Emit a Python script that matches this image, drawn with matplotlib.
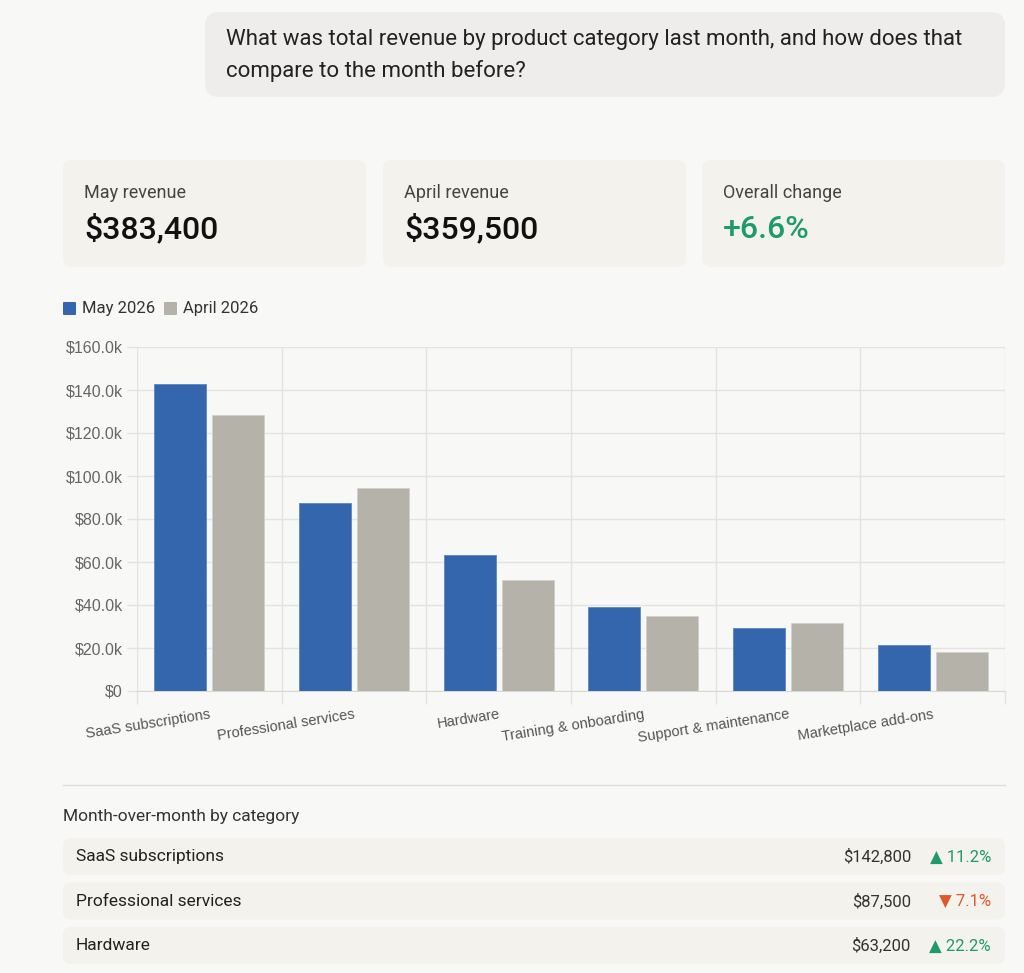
import matplotlib.pyplot as plt
from matplotlib.patches import FancyBboxPatch
from matplotlib.ticker import FuncFormatter, MultipleLocator
import numpy as np

# data
categories = ["SaaS subscriptions", "Professional services", "Hardware",
              "Training & onboarding", "Support & maintenance", "Marketplace add-ons"]
may_2026 = [142800, 87500, 63200, 39000, 29300, 21600]
april_2026 = [128400, 94200, 51700, 35100, 31800, 18300]

question_lines = ["What was total revenue by product category last month, and how does that",
                  "compare to the month before?"]
card_labels = ["May revenue", "April revenue", "Overall change"]
card_values = ["$383,400", "$359,500", "+6.6%"]

table_rows = ["SaaS subscriptions", "Professional services", "Hardware"]
table_values = ["$142,800", "$87,500", "$63,200"]
table_changes = ["▲ 11.2%", "▼ 7.1%", "▲ 22.2%"]

BG = "#f8f8f6"
CARD = "#f3f2ec"
BLUE = "#3366ad"
GREY = "#b5b2aa"
GREEN = "#1f9a6c"
RED = "#e0582a"
UI_FONT = ["Roboto", "DejaVu Sans"]

W, H = 1024, 973
fig = plt.figure(figsize=(W / 100, H / 100), dpi=100, facecolor=BG)

# page layer in pixel coordinates
bg = fig.add_axes([0, 0, 1, 1])
bg.set_xlim(0, W)
bg.set_ylim(H, 0)
bg.axis("off")


def box(x, y, w, h, color, r=10):
    bg.add_patch(FancyBboxPatch((x + r, y + r), w - 2 * r, h - 2 * r,
                                boxstyle=f"round,pad={r}", fc=color, ec="none"))


# question bubble
box(205, 12, 800, 85, "#eeedeb", r=14)
for i, line in enumerate(question_lines):
    bg.text(226, 39 + i * 32, line, fontsize=16, family=UI_FONT, color="#222222",
            va="center")

# summary cards
card_x = [63, 383, 702]
for i, x in enumerate(card_x):
    box(x, 160, 303, 107, CARD, r=9)
    bg.text(x + 21, 193, card_labels[i], fontsize=13, family=UI_FONT,
            color="#444444", va="center")
    bg.text(x + 21, 229, card_values[i], fontsize=23, family=UI_FONT,
            weight="medium", color=GREEN if i == 2 else "#111111", va="center")

# legend
bg.add_patch(FancyBboxPatch((64, 303), 11, 11, boxstyle="round,pad=1",
                            fc=BLUE, ec="none"))
bg.text(82, 309, "May 2026", fontsize=12, family=UI_FONT, color="#333333", va="center")
bg.add_patch(FancyBboxPatch((165, 303), 11, 11, boxstyle="round,pad=1",
                            fc=GREY, ec="none"))
bg.text(183, 309, "April 2026", fontsize=12, family=UI_FONT, color="#333333", va="center")

# separator and table
bg.plot([63, 1005], [785, 785], color="#dedede", lw=1)
bg.text(63, 817, "Month-over-month by category", fontsize=12.5, family=UI_FONT,
        color="#333333", va="center")
for i, name in enumerate(table_rows):
    y = 838 + i * 44.5
    box(63, y, 942, 37, CARD, r=8)
    bg.text(76, y + 19, name, fontsize=12.5, family=UI_FONT, color="#222222", va="center")
    bg.text(911, y + 19, table_values[i], fontsize=12, family=UI_FONT,
            color="#333333", va="center", ha="right")
    up = table_changes[i].startswith("▲")
    bg.text(991, y + 19, table_changes[i], fontsize=12, family=UI_FONT,
            color=GREEN if up else RED, va="center", ha="right")

# chart
ax = fig.add_axes([137 / W, 1 - 691 / H, (1005 - 137) / W, (691 - 347) / H])
ax.set_facecolor("none")
x = np.arange(len(categories))
bw = 0.36
ax.bar(x - 0.2, may_2026, width=bw, color=BLUE, edgecolor="#5b86c4", lw=0.6, zorder=3)
ax.bar(x + 0.2, april_2026, width=bw, color=GREY, edgecolor="#d2d0ca", lw=0.6, zorder=3)

ax.set_xlim(-0.5, len(categories) - 0.5)
ax.set_ylim(0, 160000)
ax.yaxis.set_major_locator(MultipleLocator(20000))
ax.yaxis.set_major_formatter(FuncFormatter(lambda v, p: "$0" if v == 0 else f"${v / 1000:.1f}k"))
ax.grid(axis="y", color="#e3e3e1", lw=1, zorder=0)
ax.set_xticks(x)
ax.set_xticks(np.arange(-0.5, len(categories)), minor=True)
ax.grid(axis="x", which="minor", color="#e3e3e1", lw=1, zorder=0)
ax.set_xticklabels(categories, rotation=9, ha="right", rotation_mode="anchor",
                   fontsize=10.5, family="Liberation Sans", color="#555555")
ax.tick_params(axis="x", which="major", length=0, pad=12)
ax.tick_params(axis="x", which="minor", length=9, color="#e3e3e1", width=1)
ax.tick_params(axis="y", length=7, color="#e3e3e1", width=1, pad=3,
               labelsize=11.5, labelcolor="#666666")
for lbl in ax.get_yticklabels():
    lbl.set_family("Liberation Sans")
for s in ["top", "right", "left"]:
    ax.spines[s].set_visible(False)
ax.spines["bottom"].set_color("#d8d8d6")

fig.savefig("out.png", dpi=100, facecolor=BG)
